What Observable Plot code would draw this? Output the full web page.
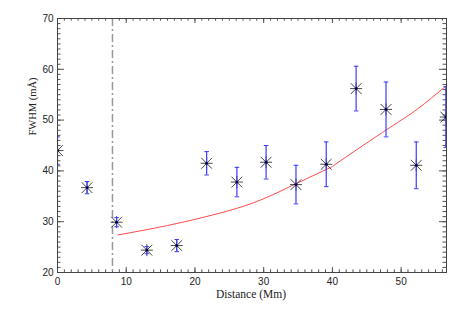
<!DOCTYPE html>
<html><head><meta charset="utf-8">
<script src="https://cdn.jsdelivr.net/npm/d3@7"></script>
<script src="https://cdn.jsdelivr.net/npm/@observablehq/plot@0.6"></script>
<style>body{margin:0;background:#fff}</style>
</head><body><div id="chart"></div>
<script>
// Observations
const distance = [0, 4.3, 8.6, 13.0, 17.35, 21.7, 26.1, 30.35, 34.7, 39.1, 43.45, 47.8, 52.2, 56.5];
const fwhm     = [44.0, 36.7, 29.9, 24.4, 25.3, 41.5, 37.8, 41.7, 37.3, 41.3, 56.2, 52.1, 41.1, 50.6];
const fwhmErr  = [2.7, 1.2, 0.9, 0.7, 1.2, 2.3, 2.9, 3.3, 3.8, 4.4, 4.4, 5.4, 4.6, 6.0];
// Fitted model curve
const fitDistance = [8.8, 16.0, 23.8, 29.6, 34.9, 39.3, 41.3, 48.1, 52.4, 56.6];
const fitFwhm     = [27.4, 29.25, 31.75, 34.3, 37.6, 40.4, 42.1, 48.3, 52.2, 56.8];
// Vertical marker
const markerDistance = [8.0];
// Axes
const xDomain = [0, 56.6];
const yDomain = [20, 70];
const xMajor = [0, 10, 20, 30, 40, 50];
const yMajor = [20, 30, 40, 50, 60, 70];
const xMinor = d3.range(0, 57, 1);
const yMinor = d3.range(20, 71, 1);
const xTitle = "Distance (Mm)";
const yTitle = "FWHM (mÅ)";

const data = distance.map((d, i) => ({x: d, y: fwhm[i], lo: fwhm[i] - fwhmErr[i], hi: fwhm[i] + fwhmErr[i]}));
const fit = fitDistance.map((d, i) => ({x: d, y: fitFwhm[i]}));

const W = 463, H = 309, mT = 18, mB = 37, mL = 57, mR = 17;
const pW = W - mL - mR, pH = H - mT - mB;

const asterisk = {draw(ctx, size) {
  const r = Math.sqrt(size / Math.PI), d = r * 0.9;
  ctx.moveTo(-d, -d); ctx.lineTo(d, d);
  ctx.moveTo(-d, d); ctx.lineTo(d, -d);
  ctx.moveTo(-r, 0); ctx.lineTo(r, 0);
  ctx.moveTo(0, -r); ctx.lineTo(0, r);
}};
const cap = {draw(ctx, size) {
  const r = Math.sqrt(size / Math.PI);
  ctx.moveTo(-r, 0); ctx.lineTo(r, 0);
}};

const tickCol = "#555";
const chart = Plot.plot({
  width: W, height: H,
  marginTop: mT, marginBottom: mB, marginLeft: mL, marginRight: mR,
  x: {domain: xDomain},
  y: {domain: yDomain},
  style: {fontFamily: "'Liberation Sans', Arial, sans-serif", fontSize: "10px", color: "#222", background: "#fff"},
  marks: [
    // ticks inward on all four sides
    Plot.tickX(xMinor, {x: d => d, stroke: tickCol, insetTop: pH - 2.7}),
    Plot.tickX(xMajor, {x: d => d, stroke: tickCol, insetTop: pH - 5}),
    Plot.tickX(xMinor, {x: d => d, stroke: tickCol, insetBottom: pH - 2.7}),
    Plot.tickX(xMajor, {x: d => d, stroke: tickCol, insetBottom: pH - 5}),
    Plot.tickY(yMinor, {y: d => d, stroke: tickCol, insetRight: pW - 3.5}),
    Plot.tickY(yMajor, {y: d => d, stroke: tickCol, insetRight: pW - 7}),
    Plot.tickY(yMinor, {y: d => d, stroke: tickCol, insetLeft: pW - 3.5}),
    Plot.tickY(yMajor, {y: d => d, stroke: tickCol, insetLeft: pW - 7}),
    Plot.axisX({ticks: xMajor, tickSize: 0, tickPadding: 5, label: null, tickFormat: d3.format("d")}),
    Plot.axisY({ticks: yMajor, tickSize: 0, tickPadding: 4, label: null, tickFormat: d3.format("d")}),
    // vertical dash-dot line
    Plot.ruleX(markerDistance, {x: d => d, stroke: "#999", strokeWidth: 1.5, strokeDasharray: "8,3,2,3"}),
    // fit curve
    Plot.line(fit, {x: "x", y: "y", stroke: "#ff4a4a", strokeWidth: 1, curve: "natural", clip: true}),
    // markers
    Plot.dot(data, {x: "x", y: "y", symbol: asterisk, r: 6, stroke: "#333", strokeWidth: 0.9, fill: "none", clip: true}),
    // error bars
    Plot.ruleX(data, {x: "x", y1: "lo", y2: "hi", stroke: "#3b3bff", strokeWidth: 1.2, clip: true}),
    Plot.dot(data, {x: "x", y: "lo", symbol: cap, r: 2.3, stroke: "#3b3bff", strokeWidth: 1, clip: true}),
    Plot.dot(data, {x: "x", y: "hi", symbol: cap, r: 2.3, stroke: "#3b3bff", strokeWidth: 1, clip: true}),
    Plot.dot(data, {x: "x", y: "y", r: 1.4, fill: "#00003a", stroke: "none", clip: true}),
    Plot.frame({stroke: "#444", strokeWidth: 1}),
    // axis titles
    Plot.text([xTitle], {frameAnchor: "bottom", dy: 25, dx: -1, text: d => d, fontFamily: "'Liberation Serif', serif", fontSize: 11.5, fill: "#222"}),
    Plot.text([yTitle], {frameAnchor: "left", dx: -25, dy: -10, rotate: -90, text: d => d, fontFamily: "'Liberation Serif', serif", fontSize: 10.5, fill: "#222"})
  ]
});
document.getElementById("chart").appendChild(chart);
</script>
</body></html>
